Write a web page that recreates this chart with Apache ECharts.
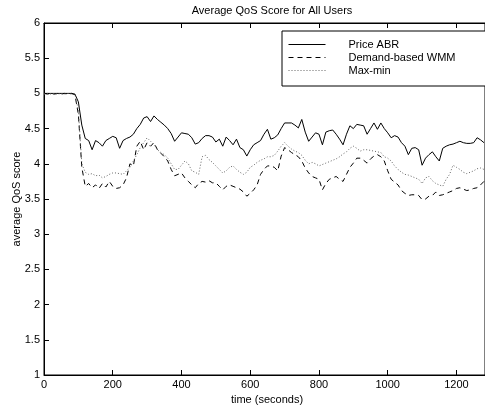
<!DOCTYPE html>
<html>
<head>
<meta charset="utf-8">
<script src="https://cdn.jsdelivr.net/npm/echarts@6/dist/echarts.min.js"></script>
<style>
  html, body { margin: 0; padding: 0; background: #fff; }
  #chart { width: 485px; height: 411px; }
</style>
</head>
<body>
<div id="chart"></div>
<script>
// Sample times (seconds), one sample every 10 s
const times = [];
for (let t = 0; t <= 1280; t += 10) times.push(t);

// Average QoS score per scheme
const priceABR = [
  5.0, 5.0, 5.0, 5.0, 5.0, 5.0, 5.0, 5.0, 5.0, 4.99,
  4.88, 4.55, 4.36, 4.33, 4.2, 4.33, 4.3, 4.25, 4.33, 4.36,
  4.39, 4.37, 4.22, 4.33, 4.36, 4.38, 4.42, 4.5, 4.56, 4.65,
  4.67, 4.6, 4.68, 4.63, 4.59, 4.55, 4.5, 4.43, 4.32, 4.38,
  4.44, 4.43, 4.42, 4.37, 4.28, 4.3, 4.36, 4.4, 4.4, 4.38,
  4.31, 4.35, 4.25, 4.38, 4.33, 4.27, 4.35, 4.23, 4.2, 4.11,
  4.2, 4.27, 4.3, 4.33, 4.42, 4.49, 4.35, 4.37, 4.41, 4.5,
  4.58, 4.58, 4.58, 4.55, 4.51, 4.63, 4.45, 4.32, 4.38, 4.44,
  4.42, 4.27, 4.45, 4.47, 4.48, 4.42, 4.35, 4.27, 4.42, 4.54,
  4.5, 4.56, 4.55, 4.54, 4.42, 4.5, 4.58, 4.49, 4.58, 4.5,
  4.44, 4.37, 4.4, 4.38, 4.3, 4.25, 4.13, 4.22, 4.23, 4.2,
  3.98, 4.08, 4.13, 4.17, 4.1, 4.04, 4.22, 4.25, 4.27, 4.28,
  4.3, 4.32, 4.3, 4.29, 4.29, 4.3, 4.37, 4.34, 4.3
];
const demandWMM = [
  5.0, 4.99, 5.0, 4.99, 5.0, 4.99, 5.0, 4.99, 5.0, 4.98,
  4.7, 3.95, 3.68, 3.72, 3.66, 3.7, 3.65, 3.72, 3.67, 3.75,
  3.68, 3.65, 3.66, 3.7, 3.8, 4.0, 3.97, 4.25, 4.32, 4.2,
  4.3, 4.25, 4.3, 4.2, 4.15, 4.1, 4.04, 3.92, 3.83, 3.85,
  3.87, 3.8, 3.75, 3.7, 3.66, 3.72, 3.75, 3.74, 3.76, 3.73,
  3.73, 3.68, 3.63, 3.68, 3.7, 3.68, 3.66, 3.64, 3.6, 3.54,
  3.58, 3.63, 3.7, 3.85, 3.92, 3.97, 3.97, 3.95, 3.9, 4.11,
  4.23, 4.2, 4.16, 4.13, 4.1, 4.04, 3.94, 3.87, 3.82, 3.8,
  3.78, 3.63, 3.72, 3.78, 3.8, 3.82, 3.78, 3.75, 3.85, 3.95,
  4.01, 4.08, 4.08, 4.05, 4.01, 4.07, 4.11, 4.13, 4.1, 4.04,
  3.9, 3.78, 3.74, 3.7, 3.62, 3.58, 3.55, 3.56, 3.56, 3.55,
  3.49, 3.5, 3.54, 3.55, 3.6, 3.55, 3.56, 3.58, 3.6, 3.62,
  3.65, 3.66, 3.64, 3.62, 3.63, 3.65, 3.66, 3.7, 3.75
];
const maxMin = [
  4.99, 5.0, 4.99, 5.0, 4.99, 5.0, 4.99, 5.0, 4.99, 4.99,
  4.75, 4.0, 3.88, 3.85, 3.86, 3.83, 3.84, 3.8, 3.82, 3.85,
  3.87, 3.87, 3.86, 3.85, 3.9, 3.95, 4.04, 4.13, 4.23, 4.3,
  4.37, 4.32, 4.27, 4.2, 4.16, 4.13, 4.08, 4.0, 3.92, 3.92,
  3.98, 4.04, 4.0, 3.9, 3.88, 3.85, 4.1, 4.12, 4.06, 4.02,
  3.97, 3.92, 3.87, 3.9, 3.95, 3.97, 3.92, 3.88, 3.85, 3.88,
  3.95, 3.98, 4.02, 4.05, 4.07, 4.1, 4.1, 4.12, 4.18, 4.25,
  4.3, 4.25, 4.21, 4.18, 4.16, 4.12, 4.05, 4.0, 4.02, 4.0,
  3.97, 3.99, 4.01, 4.03, 4.05, 4.07, 4.1, 4.14, 4.17, 4.22,
  4.25, 4.22, 4.18, 4.2, 4.2, 4.19, 4.18, 4.17, 4.16, 4.1,
  4.08, 4.04, 3.97, 3.92, 3.88, 3.85, 3.84, 3.82, 3.8, 3.78,
  3.72, 3.8, 3.82, 3.76, 3.72, 3.7, 3.68, 3.78, 3.85, 3.98,
  3.95, 3.92, 3.88, 3.86, 3.88, 3.9, 3.93, 3.94, 3.92
];

const seriesNames = ['Price ABR', 'Demand-based WMM', 'Max-min'];

function pairs(values) {
  return times.map((t, i) => [t, values[i]]);
}

const FONT = 'Liberation Sans, Arial, Helvetica, sans-serif';
const X_MAX = 1283;   // visible end of the time axis
const chart = echarts.init(document.getElementById('chart'), null, { renderer: 'canvas' });

const tickStyle = { show: true, inside: true, length: 5, lineStyle: { color: '#000' } };

const option = {
  animation: false,
  backgroundColor: '#fff',
  title: {
    text: 'Average QoS Score for All Users',
    left: 267,
    textAlign: 'center',
    top: 0,
    textStyle: { fontFamily: FONT, fontSize: 11, fontWeight: 'normal', color: '#000' }
  },
  grid: {
    left: 44, top: 23, right: 0, bottom: 36,
    outerBoundsMode: 'none',
    containLabel: false,
    show: true, borderColor: '#000', borderWidth: 1, backgroundColor: 'transparent'
  },
  legend: {
    orient: 'vertical',
    left: 282, top: 31,
    padding: [8, 34, 10, 6],
    itemWidth: 37, itemHeight: 11, itemGap: 2,
    backgroundColor: '#fff',
    borderColor: '#000', borderWidth: 1,
    data: seriesNames,
    itemStyle: { color: 'transparent', borderColor: 'transparent', borderWidth: 0 },
    lineStyle: { width: 1 },
    textStyle: { fontFamily: FONT, fontSize: 11, color: '#000', padding: [0, 0, 0, 18] }
  },
  xAxis: [
    {
      type: 'value', position: 'bottom', min: 0, max: X_MAX, interval: 200,
      name: 'time (seconds)', nameLocation: 'middle', nameGap: 18,
      nameTextStyle: { fontFamily: FONT, fontSize: 11, color: '#000', padding: [0, 0, 0, 5] },
      axisLine: { show: true, lineStyle: { color: '#000', width: 1 } },
      axisTick: tickStyle,
      axisLabel: {
        fontFamily: FONT, fontSize: 11, color: '#000', margin: 4,
        showMaxLabel: false, formatter: v => String(v)
      },
      splitLine: { show: false }
    },
    {
      type: 'value', position: 'top', min: 0, max: X_MAX, interval: 200,
      axisLine: { show: true, lineStyle: { color: '#000', width: 1 } },
      axisTick: tickStyle,
      axisLabel: { show: false },
      splitLine: { show: false }
    }
  ],
  yAxis: {
    type: 'value', min: 1, max: 6, interval: 0.5,
    name: 'average QoS score', nameLocation: 'middle', nameGap: 22,
    nameMoveOverlap: false,
    nameTextStyle: { fontFamily: FONT, fontSize: 11, color: '#000' },
    axisLine: { show: true, lineStyle: { color: '#000', width: 1 } },
    axisTick: tickStyle,
    axisLabel: { fontFamily: FONT, fontSize: 11, color: '#000', margin: 4 },
    splitLine: { show: false }
  },
  series: [
    {
      name: seriesNames[0], type: 'line', data: pairs(priceABR),
      symbol: 'none', color: '#000',
      lineStyle: { color: '#000', width: 1, type: 'solid' }
    },
    {
      name: seriesNames[1], type: 'line', data: pairs(demandWMM),
      symbol: 'none', color: '#000',
      lineStyle: { color: '#000', width: 1, type: [5, 4] }
    },
    {
      name: seriesNames[2], type: 'line', data: pairs(maxMin),
      symbol: 'none', color: '#666',
      lineStyle: { color: '#666', width: 1, type: [1, 2] }
    }
  ]
};

chart.setOption(option);
</script>
</body>
</html>
